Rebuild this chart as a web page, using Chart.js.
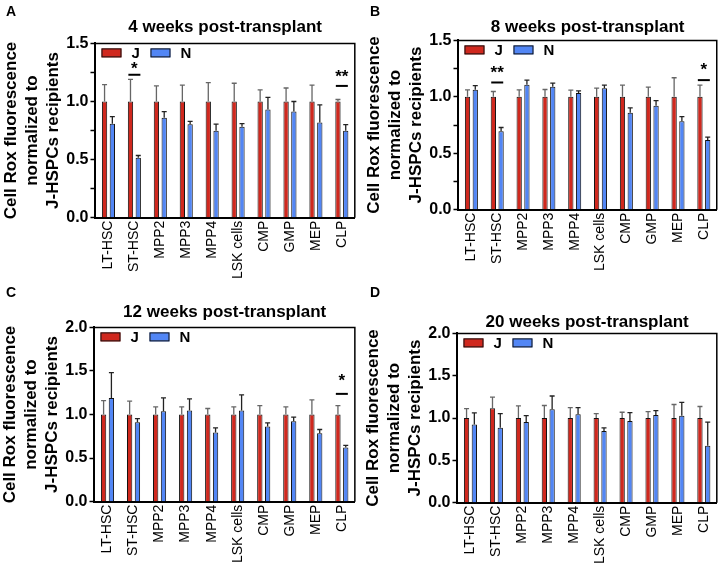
<!DOCTYPE html>
<html>
<head>
<meta charset="utf-8">
<script src="https://cdn.jsdelivr.net/npm/chart.js@4.4.0/dist/chart.umd.min.js"></script>
<style>
  body { margin: 0; background: #fff; font-family: "Liberation Sans", Arial, sans-serif; }
  #wrap { position: relative; width: 725px; height: 578px; }
  .panel { position: absolute; width: 362px; height: 290px; }
  .letter { position: absolute; font-weight: bold; font-size: 14px; color: #000; }
</style>
</head>
<body>
<div id="wrap">
  <div class="panel" style="left:0;top:0"><canvas id="chartA" width="362" height="290"></canvas></div>
  <div class="panel" style="left:362px;top:0"><canvas id="chartB" width="362" height="290"></canvas></div>
  <div class="panel" style="left:0;top:288px"><canvas id="chartC" width="362" height="290"></canvas></div>
  <div class="panel" style="left:362px;top:288px"><canvas id="chartD" width="362" height="290"></canvas></div>
  <div class="letter" style="left:6px;top:3px">A</div>
  <div class="letter" style="left:370px;top:3px">B</div>
  <div class="letter" style="left:6px;top:284px">C</div>
  <div class="letter" style="left:370px;top:284px">D</div>
</div>
<script>
var categories = ['LT-HSC', 'ST-HSC', 'MPP2', 'MPP3', 'MPP4', 'LSK cells', 'CMP', 'GMP', 'MEP', 'CLP'];

// 4 weeks
var jA = [1, 1, 1, 1, 1, 1, 1, 1, 1, 1];
var jAErr = [0.145, 0.19, 0.134, 0.14, 0.163, 0.157, 0.10, 0.116, 0.14, 0.017];
var nA = [0.808, 0.515, 0.86, 0.805, 0.747, 0.782, 0.93, 0.913, 0.82, 0.747];
var nAErr = [0.061, 0.02, 0.053, 0.023, 0.058, 0.028, 0.105, 0.087, 0.15, 0.053];

// 8 weeks
var jB = [1, 1, 1, 1, 1, 1, 1, 1, 1, 1];
var jBErr = [0.062, 0.047, 0.062, 0.065, 0.06, 0.077, 0.104, 0.086, 0.169, 0.104];
var nB = [1.062, 0.695, 1.107, 1.089, 1.033, 1.077, 0.858, 0.92, 0.784, 0.618];
var nBErr = [0.038, 0.033, 0.041, 0.032, 0.02, 0.027, 0.044, 0.047, 0.041, 0.024];

// 12 weeks
var jC = [1, 1, 1, 1, 1, 1, 1, 1, 1, 1];
var jCErr = [0.16, 0.153, 0.088, 0.088, 0.069, 0.088, 0.103, 0.088, 0.168, 0.103];
var nC = [1.19, 0.912, 1.038, 1.046, 0.794, 1.046, 0.863, 0.924, 0.786, 0.622];
var nCErr = [0.29, 0.042, 0.152, 0.134, 0.053, 0.179, 0.042, 0.046, 0.042, 0.023];

// 20 weeks
var jD = [1, 1.116, 1, 1, 1, 1, 1, 1, 1, 1];
var jDErr = [0.112, 0.132, 0.144, 0.148, 0.124, 0.052, 0.068, 0.076, 0.16, 0.136];
var nD = [0.924, 0.884, 0.952, 1.104, 1.044, 0.848, 0.964, 1.036, 1.028, 0.672];
var nDErr = [0.136, 0.168, 0.076, 0.156, 0.08, 0.036, 0.1, 0.052, 0.156, 0.28];

// significance marks: category index, line value, star value, label
var sigA = [[1, 1.23, 1.31, '*'], [9, 1.134, 1.245, '**']];
var sigB = [[1, 1.127, 1.245, '**'], [9, 1.148, 1.266, '*']];
var sigC = [[9, 1.237, 1.43, '*']];
var sigD = [];

var red = 'rgb(208, 40, 30)';
var blue = 'rgb(82, 134, 245)';
var font = '"Liberation Sans", Arial, sans-serif';

// error bars, one sided up
var errorBars = {
  id: 'errorBars',
  afterDatasetsDraw: function(chart) {
    var ctx = chart.ctx;
    var y = chart.scales.y;
    chart.data.datasets.forEach(function(ds, i) {
      var meta = chart.getDatasetMeta(i);
      meta.data.forEach(function(bar, j) {
        var top = y.getPixelForValue(ds.data[j] + ds.err[j]);
        ctx.save();
        ctx.strokeStyle = ds.errColor;
        ctx.lineWidth = 1.3;
        ctx.beginPath();
        ctx.moveTo(bar.x, bar.y);
        ctx.lineTo(bar.x, top);
        ctx.moveTo(bar.x - 2.5, top);
        ctx.lineTo(bar.x + 2.5, top);
        ctx.stroke();
        ctx.restore();
      });
    });
  }
};

// frame, legend inside the plot, stars
var extras = {
  id: 'extras',
  afterDraw: function(chart) {
    var ctx = chart.ctx;
    var a = chart.chartArea;
    ctx.save();
    ctx.strokeStyle = '#000';
    ctx.lineWidth = 1.5;
    ctx.beginPath();
    ctx.moveTo(a.left, a.top);
    ctx.lineTo(a.right, a.top);
    ctx.lineTo(a.right, a.bottom);
    ctx.stroke();

    // legend
    ctx.font = 'bold 15px ' + font;
    ctx.textAlign = 'left';
    ctx.textBaseline = 'middle';
    ctx.lineWidth = 1;
    chart.data.datasets.forEach(function(ds, i) {
      var bx = a.left + 6 + i * 49;
      var by = a.top + 5;
      ctx.fillStyle = ds.backgroundColor;
      ctx.fillRect(bx, by, 20, 9);
      ctx.strokeStyle = '#111';
      ctx.strokeRect(bx + 0.5, by + 0.5, 19, 8);
      ctx.fillStyle = '#000';
      ctx.fillText(ds.label, bx + 30, by + 5);
    });

    var x = chart.scales.x;
    var y = chart.scales.y;
    chart.options.plugins.extras.marks.forEach(function(m) {
      var cx = x.getPixelForValue(m[0]);
      var ly = y.getPixelForValue(m[1]);
      ctx.strokeStyle = '#000';
      ctx.lineWidth = 2;
      ctx.beginPath();
      ctx.moveTo(cx - 6, ly);
      ctx.lineTo(cx + 6, ly);
      ctx.stroke();
      ctx.fillStyle = '#000';
      ctx.font = 'bold 17px ' + font;
      ctx.textAlign = 'center';
      ctx.textBaseline = 'middle';
      ctx.fillText(m[3], cx, y.getPixelForValue(m[2]) + 4);
    });
    ctx.restore();
  }
};

// box = [title pad top, title pad bottom, bottom pad, left pad]
function makeChart(id, title, jData, jErr, nData, nErr, yMax, marks, box) {
  var ctx = document.getElementById(id).getContext('2d');
  return new Chart(ctx, {
    type: 'bar',
    data: {
      labels: categories,
      datasets: [{
        label: 'J',
        data: jData,
        err: jErr,
        errColor: '#666',
        backgroundColor: red,
        borderColor: '#111',
        borderWidth: 1,
        categoryPercentage: 0.6,
        barPercentage: 0.68
      }, {
        label: 'N',
        data: nData,
        err: nErr,
        errColor: '#222',
        backgroundColor: blue,
        borderColor: '#111',
        borderWidth: 1,
        categoryPercentage: 0.6,
        barPercentage: 0.68
      }]
    },
    options: {
      responsive: false,
      animation: false,
      layout: { padding: { left: box[3], right: 2, bottom: box[2] } },
      plugins: {
        title: {
          display: true,
          text: title,
          fullSize: false,
          color: '#000',
          font: { family: font, size: 17, weight: 'bold', lineHeight: 1.2 },
          padding: { top: box[0], bottom: box[1] }
        },
        legend: { display: false },
        tooltip: { enabled: false },
        extras: { marks: marks }
      },
      scales: {
        x: {
          grid: { drawOnChartArea: false, drawTicks: false },
          border: { color: '#000', width: 2 },
          ticks: {
            autoSkip: false,
            maxRotation: 90,
            minRotation: 90,
            padding: 3,
            color: '#000',
            font: { family: font, size: 14 }
          }
        },
        y: {
          min: 0,
          max: yMax,
          grid: { drawOnChartArea: false, tickLength: 5, tickColor: '#000', tickWidth: 1.5 },
          border: { color: '#000', width: 2 },
          ticks: {
            stepSize: 0.25,
            padding: 2,
            color: '#000',
            font: { family: font, size: 16, weight: 'bold' },
            callback: function(v) {
              return Math.abs(v * 2 - Math.round(v * 2)) < 1e-6 ? v.toFixed(1) : '';
            }
          },
          title: {
            display: true,
            text: ['Cell Rox fluorescence', 'normalized to', 'J-HSPCs recipients'],
            color: '#000',
            font: { family: font, size: 17, weight: 'bold', lineHeight: 1.24 },
            padding: { top: 0, bottom: 0 }
          }
        }
      }
    },
    plugins: [errorBars, extras]
  });
}

document.addEventListener('DOMContentLoaded', function() {
  makeChart('chartA', '4 weeks post-transplant', jA, jAErr, nA, nAErr, 1.5, sigA, [17, 6, 8, 1]);
  makeChart('chartB', '8 weeks post-transplant', jB, jBErr, nB, nBErr, 1.5, sigB, [17, 3, 16, 2]);
  makeChart('chartC', '12 weeks post-transplant', jC, jCErr, nC, nCErr, 2.0, sigC, [14, 5, 12, 0]);
  makeChart('chartD', '20 weeks post-transplant', jD, jDErr, nD, nDErr, 2.0, sigD, [24, 1, 11, 1]);
});
</script>
</body>
</html>
